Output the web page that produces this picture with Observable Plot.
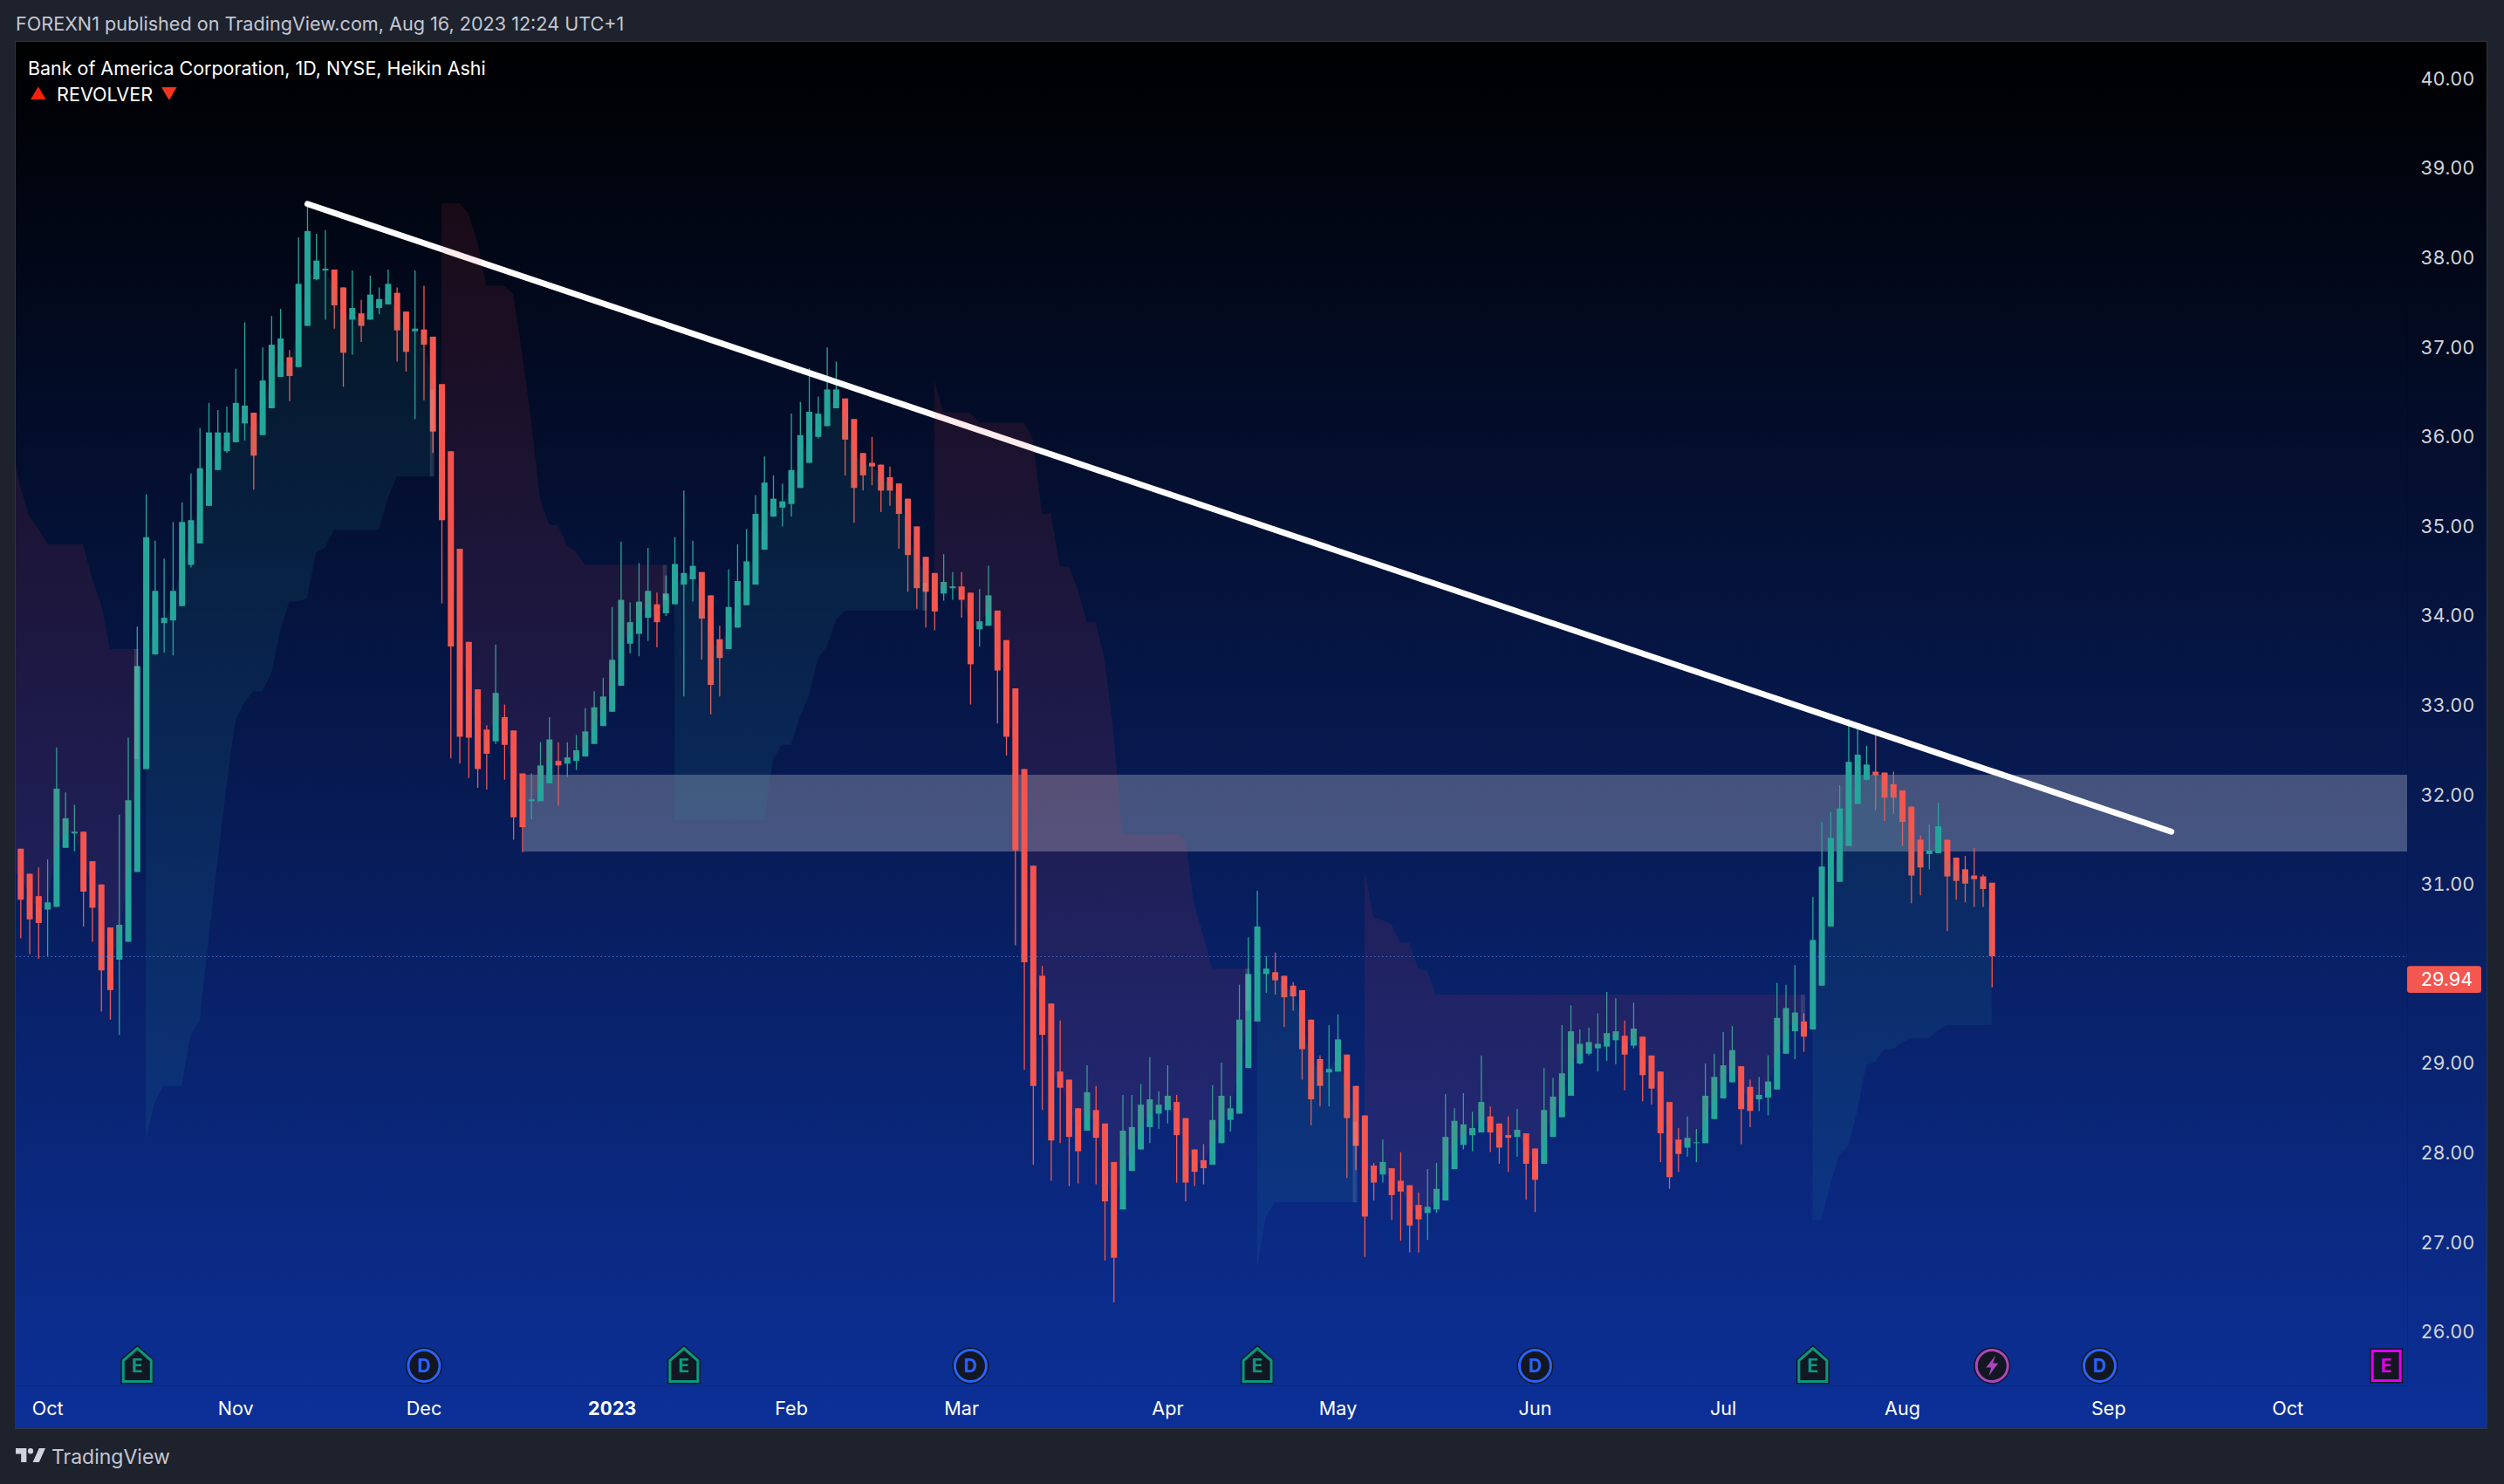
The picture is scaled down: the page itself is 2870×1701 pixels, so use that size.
<!DOCTYPE html>
<html>
<head>
<meta charset="utf-8">
<script src="https://cdn.jsdelivr.net/npm/d3@7"></script>
<script src="https://cdn.jsdelivr.net/npm/@observablehq/plot@0.6"></script>
<style>
html,body{margin:0;padding:0;background:#1e222d;width:2870px;height:1701px;overflow:hidden;font-family:Inter,"Noto Sans",sans-serif;}
#wrap{position:relative;width:2870px;height:1701px;}
#pane{position:absolute;left:17px;top:47px;width:2834px;height:1591px;background:linear-gradient(180deg,#000000 0%,#0c3098 100%);border:1px solid #2f3441;box-sizing:border-box;}
#chart{position:absolute;left:0;top:0;}
#chart svg{background:transparent;display:block;}
.t{position:absolute;white-space:nowrap;line-height:1;}
#pub{left:18px;top:17px;font-size:21.6px;color:#c3c7d2;}
#leg1{left:32px;top:67.5px;font-size:21.45px;color:#fff;}
#leg2{left:65px;top:98px;font-size:21.6px;color:#fff;}
#up{left:34px;top:98px;font-size:19px;color:#f4220f;}
#dn{left:184px;top:98px;font-size:19px;color:#f4351f;}
#logo{position:absolute;left:18px;top:1660px;width:34px;height:16px;}
#tv{left:59px;top:1659px;font-size:23px;color:#c3c7d2;}
</style>
</head>
<body>
<div id="wrap">
  <div id="pane"></div>
  <div id="chart"></div>
  <div class="t" id="pub">FOREXN1 published on TradingView.com, Aug 16, 2023 12:24 UTC+1</div>
  <div class="t" id="leg1">Bank of America Corporation, 1D, NYSE, Heikin Ashi</div>
  <div class="t" id="up">▲</div>
  <div class="t" id="leg2">REVOLVER</div>
  <div class="t" id="dn">▼</div>
  <svg id="logo" viewBox="2 6 33 15" preserveAspectRatio="none"><path fill="#d1d4dc" d="M14 6H2v6h6v9h6V6zM28 21h-7l7-15h7l-7 15z"/><circle fill="#d1d4dc" cx="18.5" cy="9" r="3"/></svg>
  <div class="t" id="tv">TradingView</div>
</div>
<script>
// ---- candles (Heikin Ashi), one entry per trading day ----
const opens = [
31.40,31.12,30.87,30.72,30.75,31.41,31.57,31.59,31.26,31.00,
30.52,30.16,30.36,31.14,32.29,33.57,33.92,33.95,34.11,34.57,
34.81,35.23,35.63,35.84,35.94,36.15,36.27,36.02,36.32,36.67,
36.89,36.78,37.24,37.76,37.86,37.87,37.67,37.31,37.38,37.31,
37.44,37.48,37.61,37.40,37.18,37.20,37.12,36.59,35.84,34.75,
33.71,33.18,32.73,32.60,32.87,32.72,32.24,31.93,31.93,32.13,
32.38,32.35,32.38,32.43,32.57,32.77,32.93,33.22,33.69,33.80,
33.98,34.13,34.03,34.13,34.35,34.41,34.49,34.23,33.74,33.63,
33.87,34.12,34.35,34.74,35.11,35.21,35.25,35.43,35.71,36.00,
36.12,36.32,36.43,36.20,35.82,35.71,35.69,35.55,35.48,35.31,
35.00,34.66,34.48,34.25,34.31,34.33,34.26,33.85,33.89,34.06,
33.73,33.19,32.29,31.21,29.98,29.67,28.91,28.82,28.50,28.25,
28.48,28.33,27.90,27.37,27.80,28.04,28.29,28.44,28.48,28.57,
28.39,28.04,27.92,27.87,28.11,28.37,28.44,28.95,29.47,30.00,
30.02,29.98,29.87,29.82,29.49,29.05,28.90,28.91,29.10,28.75,
28.42,27.86,27.76,27.83,27.69,27.64,27.42,27.33,27.37,27.47,
27.82,28.09,28.20,28.23,28.41,28.33,28.20,28.18,28.22,28.05,
27.88,28.18,28.40,28.64,29.00,29.11,29.17,29.19,29.26,29.31,
29.20,29.30,29.09,28.91,28.57,28.15,28.06,28.11,28.11,28.38,
28.61,28.79,28.97,28.74,28.60,28.62,28.71,29.11,29.36,29.47,
29.38,29.87,30.53,31.03,31.43,31.90,32.17,32.26,32.25,32.12,
32.05,31.87,31.50,31.34,31.35,31.50,31.30,31.17,31.10,31.09,31.02];
const closes = [
30.83,30.61,30.57,30.80,32.07,31.74,31.59,30.92,30.74,30.04,
29.82,30.55,31.94,33.44,34.88,34.28,33.98,34.28,35.05,35.07,
35.65,36.05,36.05,36.05,36.38,36.35,35.79,36.63,37.03,37.10,
36.68,37.71,38.30,37.97,37.88,37.47,36.94,37.44,37.24,37.59,
37.54,37.71,37.19,36.95,37.21,37.03,36.06,35.07,33.66,32.65,
32.64,32.29,32.46,33.14,32.56,31.75,31.64,31.95,32.33,32.62,
32.33,32.42,32.50,32.71,32.98,33.10,33.51,34.18,33.93,34.16,
34.28,33.93,34.25,34.58,34.48,34.56,33.97,33.23,33.53,34.10,
34.39,34.61,35.14,35.49,35.31,35.28,35.63,36.02,36.28,36.26,
36.53,36.53,35.97,35.43,35.57,35.67,35.40,35.40,35.14,34.68,
34.31,34.27,34.05,34.38,34.33,34.18,33.46,33.94,34.23,33.39,
32.65,31.38,30.13,28.75,29.32,28.14,28.73,28.18,28.02,28.68,
28.17,27.46,26.83,28.25,28.29,28.54,28.60,28.54,28.64,28.20,
27.67,27.79,27.83,28.37,28.64,28.50,29.49,30.00,30.53,30.06,
29.93,29.74,29.75,29.16,28.60,28.75,28.94,29.27,28.39,28.08,
27.29,27.67,27.90,27.53,27.57,27.19,27.26,27.40,27.60,28.18,
28.36,28.32,28.28,28.57,28.23,28.06,28.17,28.26,27.88,27.70,
28.48,28.63,28.89,29.36,29.22,29.24,29.22,29.34,29.36,29.10,
29.39,28.87,28.72,28.22,27.73,27.99,28.17,28.12,28.64,28.85,
28.98,29.15,28.49,28.47,28.65,28.80,29.51,29.62,29.57,29.30,
30.38,31.20,31.52,31.85,32.37,32.45,32.34,32.22,31.97,31.97,
31.70,31.10,31.19,31.38,31.65,31.09,31.04,31.01,31.06,30.95,30.20];
const highs = [
31.40,31.12,31.19,31.28,32.53,32.03,31.89,31.59,31.26,31.00,
30.52,31.78,32.64,33.88,35.36,34.84,34.64,35.05,35.27,35.59,
36.10,36.38,36.30,36.34,36.76,37.28,36.27,37.00,37.35,37.43,
36.97,38.23,38.61,38.27,38.31,37.87,37.67,37.86,37.53,37.80,
37.67,37.87,37.67,37.40,37.86,37.69,37.12,36.59,35.84,34.75,
33.71,33.18,32.78,33.68,33.01,32.72,32.24,32.24,32.59,32.87,
32.59,32.59,32.67,32.97,33.16,33.31,34.10,34.83,34.15,34.59,
34.76,34.26,34.45,34.88,35.40,34.84,34.49,34.23,33.89,34.52,
34.80,34.97,35.35,35.78,35.57,35.48,36.26,36.39,36.77,36.45,
37.00,36.84,36.43,36.20,35.82,36.00,35.69,35.67,35.48,35.31,
35.00,34.66,34.48,34.69,34.49,34.49,34.26,34.30,34.56,34.06,
33.73,33.19,32.29,31.21,30.09,29.67,29.48,28.82,28.50,28.98,
28.75,28.33,27.90,28.65,28.65,28.77,29.07,28.69,28.98,28.65,
28.39,28.04,28.10,28.76,29.01,28.64,29.88,30.41,30.93,30.20,
30.24,29.98,29.91,29.82,29.49,29.09,29.43,29.55,29.10,28.75,
28.42,27.89,28.15,27.83,28.01,27.64,27.56,27.82,27.89,28.66,
28.50,28.67,28.46,29.09,28.52,28.33,28.41,28.49,28.22,28.05,
28.95,28.84,29.43,29.65,29.38,29.40,29.56,29.80,29.73,29.48,
29.68,29.30,29.09,28.91,28.57,28.28,28.41,28.27,29.00,29.11,
29.35,29.42,28.97,28.82,28.85,29.09,29.90,29.88,30.10,29.56,
30.86,31.70,31.81,32.11,32.85,32.79,32.55,32.74,32.25,32.26,
32.05,31.87,31.55,31.67,31.91,31.50,31.30,31.32,31.41,31.11,31.02];
const lows = [
30.40,30.22,30.17,30.20,30.75,31.41,31.37,30.53,30.36,29.58,
29.49,29.32,30.36,31.14,32.29,33.57,33.59,33.56,34.11,34.54,
34.81,35.23,35.63,35.82,35.94,35.96,35.41,36.02,36.32,36.67,
36.40,36.78,37.24,37.75,37.31,37.21,36.56,36.92,37.06,37.31,
37.37,37.48,36.84,36.73,36.20,36.41,35.82,34.14,32.41,32.35,
32.19,32.08,32.06,32.57,32.17,31.50,31.36,31.73,31.93,32.13,
31.88,32.20,32.28,32.43,32.57,32.77,32.93,33.22,33.58,33.55,
33.72,33.65,34.00,34.13,33.10,34.16,33.51,32.90,33.10,33.63,
33.87,34.12,34.35,34.74,35.11,35.00,35.11,35.43,35.71,35.98,
36.12,36.32,35.57,35.04,35.40,35.46,35.16,35.23,34.75,34.27,
34.08,33.87,33.84,34.17,34.18,33.98,33.01,33.66,33.89,32.80,
32.44,30.32,28.93,27.87,28.48,27.69,28.11,27.63,27.66,28.25,
27.65,26.80,26.33,27.37,27.80,28.04,28.11,28.27,28.33,27.67,
27.46,27.63,27.65,27.87,28.11,28.24,28.44,28.95,29.47,29.79,
29.77,29.41,29.59,28.82,28.31,28.52,28.52,28.91,27.72,27.81,
26.84,27.47,27.67,27.25,27.02,26.89,26.89,27.03,27.33,27.47,
27.82,28.04,28.02,28.23,28.01,27.88,27.79,27.96,27.48,27.34,
27.88,28.18,28.40,28.64,28.99,29.09,28.91,29.03,28.99,28.70,
29.17,28.58,28.54,27.90,27.60,27.79,27.96,27.90,28.11,28.38,
28.61,28.79,28.10,28.29,28.47,28.42,28.71,29.11,29.05,29.13,
29.38,29.87,30.53,31.03,31.43,31.90,32.16,31.83,31.71,31.79,
31.43,30.79,30.88,31.17,31.35,30.48,30.83,30.80,30.75,30.75,29.85];

// ---- REVOLVER stop levels, per candle, for each alternating cloud ----
const red1Start = 0;
const red1Stop = [35.44,35.11,34.98,34.80,34.80,34.80,34.80,34.80,34.42,34.14,33.63,33.63,33.63,33.63];
const green1Start = 14;
const green1Stop = [28.14,28.57,28.75,28.75,28.75,29.31,29.48,30.38,31.25,32.09,32.83,33.03,33.16,33.16,33.36,33.83,34.16,34.16,34.20,34.71,34.76,34.96,34.96,34.96,34.96,34.96,34.96,35.31,35.56,35.56,35.56,35.56,35.56];
const red2Start = 47;
const red2Stop = [38.61,38.61,38.61,38.50,38.18,37.69,37.69,37.69,37.60,36.93,36.18,35.30,35.02,35.01,34.79,34.72,34.57,34.57,34.57,34.57,34.57,34.57,34.57,34.57,34.57,34.57];
const green2Start = 73;
const green2Stop = [31.72,31.72,31.72,31.72,31.72,31.72,31.72,31.72,31.72,31.72,31.72,32.40,32.56,32.56,32.87,33.11,33.52,33.66,33.95,34.06,34.06,34.06,34.06,34.06,34.06,34.06,34.06,34.06,34.06];
const red3Start = 102;
const red3Stop = [36.63,36.28,36.27,36.27,36.27,36.16,36.16,36.16,36.16,36.16,36.16,35.97,35.14,35.14,34.55,34.55,34.30,33.93,33.93,33.51,32.70,31.56,31.56,31.56,31.56,31.56,31.56,31.56,31.52,30.78,30.44,30.06,30.06,30.06,30.06,30.06];
const green3Start = 138;
const green3Stop = [26.71,27.29,27.45,27.45,27.45,27.45,27.45,27.45,27.45,27.45,27.45,27.45];
const red4Start = 150;
const red4Stop = [31.18,30.64,30.60,30.56,30.35,30.35,30.06,30.03,29.77,29.77,29.77,29.77,29.77,29.77,29.77,29.77,29.77,29.77,29.77,29.77,29.77,29.77,29.77,29.77,29.77,29.77,29.77,29.77,29.77,29.77,29.77,29.77,29.77,29.77,29.77,29.77,29.77,29.77,29.77,29.77,29.77,29.77,29.77,29.77,29.77,29.77,29.77,29.77,29.77,29.77];
const green4Start = 200;
const green4Stop = [27.25,27.25,27.66,27.98,28.08,28.47,28.98,29.02,29.16,29.16,29.24,29.28,29.28,29.28,29.37,29.43,29.43,29.43,29.43,29.43,29.43];

// flip markers: candle, top price, bottom price
const flipIdx = [13,46,72,101,137,149,199];
const flipTop = [33.63,36.53,34.57,34.37,30.06,28.35,29.77];
const flipBot = [32.40,35.56,34.18,34.06,29.59,27.45,29.47];

// ---- drawings ----
const trendIdx = [32,240];
const trendPrice = [38.607,31.595];
const zoneIdx = [56.1,266.37];
const zonePrice = [31.368,32.226];
const lastClose = 30.20;
const lastPrice = 29.94;

// ---- axes ----
const priceTicks = [26,27,28,29,31,32,33,34,35,36,37,38,39,40];
const monthIdx = [3,24,45,86,105,128,147,169,190,210,233,253];
const monthLabels = ["Oct","Nov","Dec","Feb","Mar","Apr","May","Jun","Jul","Aug","Sep","Oct"];
const yearIdx = [66];
const yearLabels = ["2023"];
const xDomain = [-0.516,266.37];
const yDomain = [25.404,40.413];

// ---- event badges along the time axis ----
const earnIdx = [13,74,138,200];
const divIdx = [45,106,169,232];
const splitIdx = [220];
const nextEarnIdx = [264];

// ---- build tables ----
const candles = opens.map((o,i)=>({i,o,c:closes[i],h:highs[i],l:lows[i],up:closes[i]>=o}));
const mid = candles.map(d=>(d.o+d.c)/2);
const cloudRows = (start,stops)=>stops.map((s,k)=>({i:start+k,stop:s,mid:mid[start+k]}));
const redClouds = [[red1Start,red1Stop],[red2Start,red2Stop],[red3Start,red3Stop],[red4Start,red4Stop]];
const greenClouds = [[green1Start,green1Stop],[green2Start,green2Stop],[green3Start,green3Stop],[green4Start,green4Stop]];
const firstRed = cloudRows(red1Start,red1Stop);
firstRed.unshift({i:xDomain[0],stop:35.69,mid:mid[0]});

const GREEN="#26a69a", RED="#f4574f", GROUND="#131722";
const FONT="Inter, 'Noto Sans', sans-serif";

const house={draw(c){c.moveTo(0,-20);c.lineTo(16,-6);c.lineTo(16,18);c.lineTo(-16,18);c.lineTo(-16,-6);c.closePath();}};
const square={draw(c){c.moveTo(-16,-17);c.lineTo(16,-17);c.lineTo(16,17);c.lineTo(-16,17);c.closePath();}};
const bolt={draw(c){c.moveTo(4,-12);c.lineTo(-7,2);c.lineTo(-1,2);c.lineTo(-4,12);c.lineTo(7,-3);c.lineTo(1,-3);c.closePath();}};

const badge=(idx,symbol,color,letter)=>{
  const common={x:d=>d,frameAnchor:"bottom",dy:-23};
  const marks=[
    Plot.dot(idx,{...common,symbol,r:18,fill:GROUND,stroke:GROUND,strokeWidth:6}),
    Plot.dot(idx,{...common,symbol,r:18,fill:GROUND,stroke:color,strokeWidth:3})
  ];
  if(letter) marks.push(Plot.text(idx,{...common,text:()=>letter,lineAnchor:"middle",fill:color,fontSize:21,fontWeight:"bold",fontFamily:FONT,dy:-22}));
  return marks;
};

const chart = Plot.plot({
  width:2870,height:1701,
  marginLeft:18,marginRight:111,marginTop:48,marginBottom:113,
  style:{background:"transparent",fontFamily:FONT,overflow:"visible"},
  x:{domain:xDomain,axis:null},
  y:{domain:yDomain,axis:null},
  marks:[
    // supply/demand zone behind the candles
    Plot.rect([0],{x1:()=>zoneIdx[0],x2:()=>zoneIdx[1],y1:()=>zonePrice[0],y2:()=>zonePrice[1],fill:"#ffffff",fillOpacity:0.25}),
    // candles
    Plot.ruleX(candles,{x:"i",y1:"l",y2:"h",stroke:d=>d.up?GREEN:RED,strokeWidth:1.3}),
    Plot.ruleX(candles,{x:"i",y1:"o",y2:"c",stroke:d=>d.up?GREEN:RED,strokeWidth:7,strokeLinecap:"butt"}),
    // trend line
    Plot.line(trendIdx,{x:d=>d,y:(d,i)=>trendPrice[i],stroke:"#ffffff",strokeWidth:7,strokeLinecap:"round"}),
    // clouds over candles
    Plot.areaY(firstRed,{x:"i",y1:"stop",y2:"mid",fill:"#f23645",fillOpacity:0.1}),
    ...redClouds.slice(1).map(([s,v])=>Plot.areaY(cloudRows(s,v),{x:"i",y1:"stop",y2:"mid",fill:"#f23645",fillOpacity:0.1})),
    ...greenClouds.map(([s,v])=>Plot.areaY(cloudRows(s,v),{x:"i",y1:"stop",y2:"mid",fill:"#26a69a",fillOpacity:0.1})),
    Plot.ruleX(flipIdx,{x:d=>d,y1:(d,i)=>flipTop[i],y2:(d,i)=>flipBot[i],stroke:"#ffffff",strokeOpacity:0.12,strokeWidth:5,dx:-1}),
    // last close line
    Plot.ruleY([lastClose],{stroke:"#4f86e8",strokeWidth:1,strokeDasharray:"1.5 3",strokeOpacity:0.8}),
    // pane separators
    Plot.ruleY([yDomain[0]],{stroke:"#000000",strokeOpacity:0.15,strokeWidth:1}),
    Plot.ruleX([xDomain[1]],{stroke:"#000000",strokeOpacity:0.1,strokeWidth:1}),
    // axes
    Plot.axisY(priceTicks,{anchor:"right",tickSize:0,tickPadding:15,tickFormat:d=>d.toFixed(2),fill:"#d1d4dc",fontSize:21.6,label:null,fontFamily:FONT}),
    Plot.axisX(monthIdx,{anchor:"bottom",tickSize:0,tickPadding:18,tickFormat:(d,i)=>monthLabels[i],fill:"#ffffff",fontSize:21.6,label:null,fontFamily:FONT}),
    Plot.axisX(yearIdx,{anchor:"bottom",tickSize:0,tickPadding:18,tickFormat:(d,i)=>yearLabels[i],fill:"#ffffff",fontSize:21.6,fontWeight:"bold",label:null,fontFamily:FONT}),
    // last price tag
    Plot.rect([lastPrice],{x1:()=>xDomain[1],x2:()=>274.64,y1:d=>d+0.15,y2:d=>d-0.15,fill:"#f4574f",rx:3}),
    Plot.text([lastPrice],{x:()=>270.75,y:d=>d,text:d=>d.toFixed(2),fill:"#ffffff",fontSize:21.6,fontFamily:FONT}),
    // badges
    ...badge(earnIdx,house,"#089981","E"),
    ...badge(divIdx,"circle","#2962ff","D"),
    ...badge(nextEarnIdx,square,"#e000f0","E"),
    ...badge(splitIdx,"circle","#ab47bc",null),
    Plot.dot(splitIdx,{x:d=>d,frameAnchor:"bottom",dy:-23,symbol:bolt,fill:"#ab47bc",stroke:"none"})
  ]
});
document.getElementById("chart").appendChild(chart);
</script>
</body>
</html>
